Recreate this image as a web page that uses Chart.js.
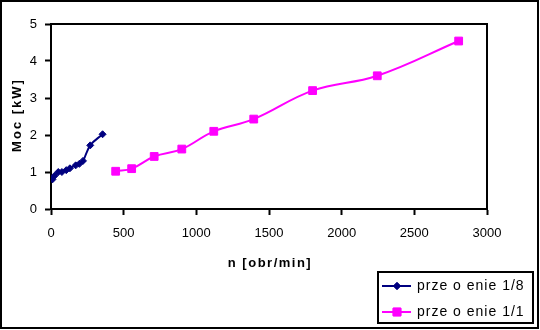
<!DOCTYPE html>
<html>
<head>
<meta charset="utf-8">
<script src="https://cdn.jsdelivr.net/npm/chart.js@4"></script>
<style>
  html, body { margin: 0; padding: 0; background: #fff; }
  #wrap { width: 540px; height: 330px; position: relative; }
</style>
</head>
<body>
<div id="wrap"><canvas id="canvas-chart"></canvas></div>
<script>
// dane
var rpmGear18 = [10, 25, 50, 75, 105, 130, 170, 195, 220, 270, 355];
var powerGear18 = [0.8, 0.9, 1.0, 1.0, 1.05, 1.1, 1.18, 1.22, 1.3, 1.72, 2.02];

var rpmGear11 = [445, 555, 710, 900, 1120, 1395, 1800, 2245, 2805];
var powerGear11 = [1.02, 1.09, 1.42, 1.62, 2.1, 2.43, 3.2, 3.6, 4.54];

var seriesNames = ['prze o enie 1/8', 'prze o enie 1/1'];
var xTitle = 'n [obr/min]';
var yTitle = 'Moc [kW]';

var FONT = 'Liberation Sans, Arial, sans-serif';

function points(xs, ys) {
    return xs.map(function (x, i) {
        return { x: x, y: ys[i] };
    });
}

// ramka wykresu, obramowanie obszaru, tytuly osi i legenda
var framePlugin = {
    id: 'frame',
    afterDraw: function (chart) {
        var ctx = chart.ctx;
        var a = chart.chartArea;
        ctx.save();
        ctx.strokeStyle = '#000';
        ctx.lineWidth = 2;

        ctx.beginPath();
        ctx.moveTo(a.left, a.top);
        ctx.lineTo(a.right, a.top);
        ctx.lineTo(a.right, a.bottom);
        ctx.stroke();

        ctx.strokeRect(1, 1, 537, 327);

        // tytuly osi (rozstrzelone jak w Excelu)
        ctx.fillStyle = '#000';
        ctx.font = 'bold 13px ' + FONT;
        ctx.textAlign = 'center';
        ctx.textBaseline = 'middle';
        ctx.letterSpacing = '1.5px';
        ctx.fillText(xTitle, 270, 263);

        ctx.save();
        ctx.translate(17, 116);
        ctx.rotate(-Math.PI / 2);
        ctx.letterSpacing = '2px';
        ctx.fillText(yTitle, 1, 0);
        ctx.restore();

        // legenda
        ctx.strokeRect(378, 272, 155, 51);

        var rows = [
            { y: 286, color: '#000080', style: 'rectRot', r: 3.5 },
            { y: 312, color: '#ff00ff', style: 'rect', r: 5.5 }
        ];
        rows.forEach(function (row, i) {
            ctx.strokeStyle = row.color;
            ctx.lineWidth = 2;
            ctx.beginPath();
            ctx.moveTo(382, row.y);
            ctx.lineTo(411, row.y);
            ctx.stroke();
            ctx.fillStyle = row.color;
            ctx.lineWidth = 1;
            Chart.helpers.drawPoint(ctx, { pointStyle: row.style, radius: row.r, borderWidth: 1 }, 397, row.y);
            ctx.fill();
            ctx.stroke();

            ctx.fillStyle = '#000';
            ctx.font = '14px ' + FONT;
            ctx.textBaseline = 'middle';
            ctx.textAlign = 'left';
            ctx.letterSpacing = '1px';
            ctx.fillText(seriesNames[i], 417, row.y);
        });
        ctx.restore();
    }
};

var ctx = document.getElementById('canvas-chart').getContext('2d');

var chart = new Chart(ctx, {
    type: 'scatter',
    data: {
        datasets: [
            {
                label: seriesNames[0],
                data: points(rpmGear18, powerGear18),
                showLine: true,
                tension: 0.4,
                borderColor: '#000080',
                backgroundColor: '#000080',
                borderWidth: 2,
                pointStyle: 'rectRot',
                pointRadius: 3.5,
                pointBorderWidth: 1
            },
            {
                label: seriesNames[1],
                data: points(rpmGear11, powerGear11),
                showLine: true,
                tension: 0.4,
                borderColor: '#ff00ff',
                backgroundColor: '#ff00ff',
                borderWidth: 2,
                pointStyle: 'rect',
                pointRadius: 5.5,
                pointBorderWidth: 1
            }
        ]
    },
    options: {
        responsive: true,
        maintainAspectRatio: false,
        animation: false,
        events: [],
        layout: { padding: { top: 24, right: 53, left: 0, bottom: 0 } },
        plugins: {
            legend: { display: false },
            tooltip: { enabled: false }
        },
        scales: {
            x: {
                type: 'linear',
                min: 0,
                max: 3000,
                afterFit: function (scale) { scale.height = 121; },
                ticks: {
                    stepSize: 500,
                    color: '#000',
                    padding: 11,
                    maxRotation: 0,
                    font: { family: FONT, size: 13 },
                    callback: function (v) { return String(v); }
                },
                grid: {
                    drawOnChartArea: false,
                    drawTicks: true,
                    tickLength: 6,
                    tickWidth: 2,
                    tickColor: '#000'
                },
                border: { color: '#000', width: 2 },
                title: { display: false }
            },
            y: {
                min: 0,
                max: 5,
                afterFit: function (scale) { scale.width = 51; },
                ticks: {
                    stepSize: 1,
                    color: '#000',
                    padding: 8,
                    font: { family: FONT, size: 13 },
                    callback: function (v) { return String(v); }
                },
                grid: {
                    drawOnChartArea: false,
                    drawTicks: true,
                    tickLength: 6,
                    tickWidth: 2,
                    tickColor: '#000'
                },
                border: { color: '#000', width: 2 },
                title: { display: false }
            }
        }
    },
    plugins: [framePlugin]
});
</script>
</body>
</html>
